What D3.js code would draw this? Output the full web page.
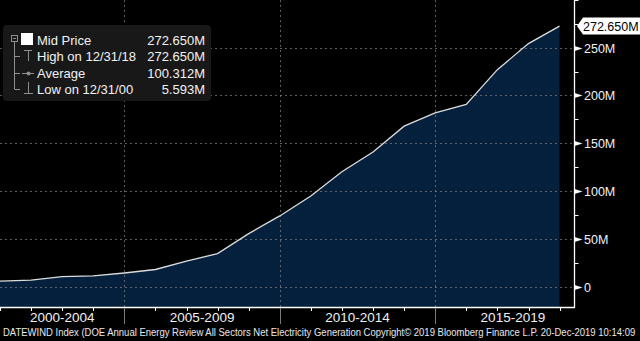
<!DOCTYPE html>
<html><head><meta charset="utf-8">
<script src="https://cdn.jsdelivr.net/npm/d3@7"></script>
<style>html,body{margin:0;padding:0;background:#000;}svg{display:block;}</style>
</head><body>
<svg id="chart" width="640" height="341"></svg>
<script>
// Data: DOE annual wind net electricity generation (millions), year-end values
const years = [2000,2001,2002,2003,2004,2005,2006,2007,2008,2009,2010,2011,2012,2013,2014,2015,2016,2017,2018];
const values = [5.593,6.737,10.354,11.187,14.144,17.811,26.589,34.450,55.363,73.886,94.652,120.177,140.822,167.840,181.655,190.719,226.993,254.303,272.650];
const periodLabels = ["2000-2004","2005-2009","2010-2014","2015-2019"];
const periodStarts = [2001,2005,2010,2015];
const yTicks = [0,50,100,150,200,250];
const legendRows = [
  {label:"Mid Price", value:"272.650M"},
  {label:"High on 12/31/18", value:"272.650M"},
  {label:"Average", value:"100.312M"},
  {label:"Low on 12/31/00", value:"5.593M"}
];
const lastLabel = "272.650M";
const footer = "DATEWIND Index (DOE Annual Energy Review All Sectors Net Electricity Generation Copyright\u00A9 2019 Bloomberg Finance L.P.  20-Dec-2019 10:14:09";

const data = years.map((y,i)=>({date:new Date(y,11,31), v:values[i]}));
const svg = d3.select("#chart");
const font = "'Liberation Sans', Arial, sans-serif";
const plotRight = 574.5, plotBottom = 307;

const x = d3.scaleTime().domain([new Date(2000,11,31), new Date(2018,11,31)]).range([0, 559.5]);
const y = d3.scaleLinear().domain([0,250]).range([286.5, 47.7]);

// area
const area = d3.area().x(d=>x(d.date)).y0(plotBottom).y1(d=>y(d.v));
svg.append("path").datum(data).attr("d", area).attr("fill", "#05203d");

// grid
const grid = svg.append("g").attr("stroke","#8c8c8c").attr("stroke-opacity",0.65).attr("stroke-dasharray","2,3").attr("stroke-width",1);
yTicks.forEach(t=>{
  grid.append("line").attr("x1",0).attr("x2",plotRight).attr("y1",Math.round(y(t))+0.5).attr("y2",Math.round(y(t))+0.5);
});
periodStarts.slice(1).forEach(py=>{
  const xx = Math.round(x(new Date(py,0,1)))+0.5;
  grid.append("line").attr("x1",xx).attr("x2",xx).attr("y1",0).attr("y2",plotBottom);
});

// line
const line = d3.line().x(d=>x(d.date)).y(d=>y(d.v));
svg.append("path").datum(data).attr("d", line).attr("fill","none").attr("stroke","#dcdcdc").attr("stroke-width",1.3);

// axes frame
svg.append("line").attr("x1",0).attr("x2",plotRight).attr("y1",plotBottom+0.5).attr("y2",plotBottom+0.5).attr("stroke","#fff").attr("stroke-width",1.3);
svg.append("line").attr("x1",plotRight).attr("x2",plotRight).attr("y1",0).attr("y2",plotBottom+1).attr("stroke","#fff").attr("stroke-width",1.3);

// x yearly ticks
const yearTicks = d3.range(2001, 2020).map(yy=>new Date(yy,0,1)).filter(d=>x(d) < plotRight-2);
yearTicks.forEach(d=>{
  const xx = Math.round(x(d))+0.5;
  svg.append("line").attr("x1",xx).attr("x2",xx).attr("y1",plotBottom).attr("y2",plotBottom+4).attr("stroke","#fff");
});
// period separators
periodStarts.slice(1).forEach(py=>{
  const xx = Math.round(x(new Date(py,0,1)))+0.5;
  svg.append("line").attr("x1",xx).attr("x2",xx).attr("y1",plotBottom+1).attr("y2",324).attr("stroke","#7a7a7a");
});
// period labels
const periodBounds = [0].concat(periodStarts.slice(1).map(py=>x(new Date(py,0,1)))).concat([x(new Date(2019,11,31))]);
periodLabels.forEach((lab,i)=>{
  const cx = (periodBounds[i]+periodBounds[i+1])/2;
  svg.append("text").attr("x",cx).attr("y",322).attr("text-anchor","middle")
    .attr("font-family",font).attr("font-size",13.5).attr("fill","#f0f0f0").text(lab);
});

// y axis ticks (right)
d3.range(0, 301, 25).forEach(t=>{
  const yy = Math.round(y(t))+0.5;
  if (t % 50 === 0 && t <= 250) {
    svg.append("path").attr("d",`M${plotRight},${yy-2.5}L${plotRight+8},${yy}L${plotRight},${yy+2.5}Z`).attr("fill","#fff");
    svg.append("text").attr("x",584).attr("y",yy+4.5).attr("font-family",font).attr("font-size",12.5).attr("fill","#f2f2f2").text(t===0?"0":t+"M");
  } else {
    svg.append("line").attr("x1",plotRight).attr("x2",plotRight+4).attr("y1",yy).attr("y2",yy).attr("stroke","#fff");
  }
});

// last value label
const ly = y(values[values.length-1]);
svg.append("path").attr("d",`M577,${ly}L583,${ly-8.5}L640,${ly-8.5}L640,${ly+8.5}L583,${ly+8.5}Z`).attr("fill","#fff");
svg.append("text").attr("x",583).attr("y",ly+4.5).attr("font-family",font).attr("font-size",12.5).attr("fill","#000").text(lastLabel);

// legend
const lg = svg.append("g");
lg.append("rect").attr("x",3).attr("y",25).attr("width",208).attr("height",76).attr("rx",4).attr("fill","#181818");
const rowY = [39.5, 56, 73, 89];
const gcol = "#8f8f8f";
lg.append("rect").attr("x",11.5).attr("y",35.5).attr("width",6).attr("height",6).attr("fill","none").attr("stroke",gcol);
lg.append("line").attr("x1",13).attr("x2",16).attr("y1",38.5).attr("y2",38.5).attr("stroke",gcol);
lg.append("line").attr("x1",14.5).attr("x2",14.5).attr("y1",42).attr("y2",rowY[3]).attr("stroke",gcol);
[1,2,3].forEach(i=>lg.append("line").attr("x1",14.5).attr("x2",20).attr("y1",Math.round(rowY[i])+0.5).attr("y2",Math.round(rowY[i])+0.5).attr("stroke",gcol));
lg.append("rect").attr("x",21).attr("y",33).attr("width",12).attr("height",12).attr("fill","#fff");
lg.append("line").attr("x1",24).attr("x2",32).attr("y1",50.5).attr("y2",50.5).attr("stroke",gcol);
lg.append("line").attr("x1",28.5).attr("x2",28.5).attr("y1",50).attr("y2",61).attr("stroke",gcol);
lg.append("line").attr("x1",22).attr("x2",34).attr("y1",73.5).attr("y2",73.5).attr("stroke",gcol);
lg.append("circle").attr("cx",28.5).attr("cy",73.5).attr("r",2).attr("fill",gcol);
lg.append("line").attr("x1",28.5).attr("x2",28.5).attr("y1",82).attr("y2",93).attr("stroke",gcol);
lg.append("line").attr("x1",24).attr("x2",33).attr("y1",93.5).attr("y2",93.5).attr("stroke",gcol);
legendRows.forEach((r,i)=>{
  lg.append("text").attr("x",37).attr("y",rowY[i]+5).attr("font-family",font).attr("font-size",13).attr("fill","#f2f2f2").text(r.label);
  lg.append("text").attr("x",205).attr("y",rowY[i]+5).attr("text-anchor","end").attr("font-family",font).attr("font-size",13).attr("fill","#f2f2f2").text(r.value);
});

// footer: horizontally condensed to fit the width
const ft = svg.append("text").attr("x",0).attr("y",0).attr("font-family",font)
  .attr("font-size",11).attr("fill","#e8e8e8").text(footer);
const len = ft.node().getComputedTextLength();
const sx = Math.min(1, 633 / len);
ft.attr("transform", `translate(3,335.5) scale(${sx},1)`);
</script>
</body></html>
